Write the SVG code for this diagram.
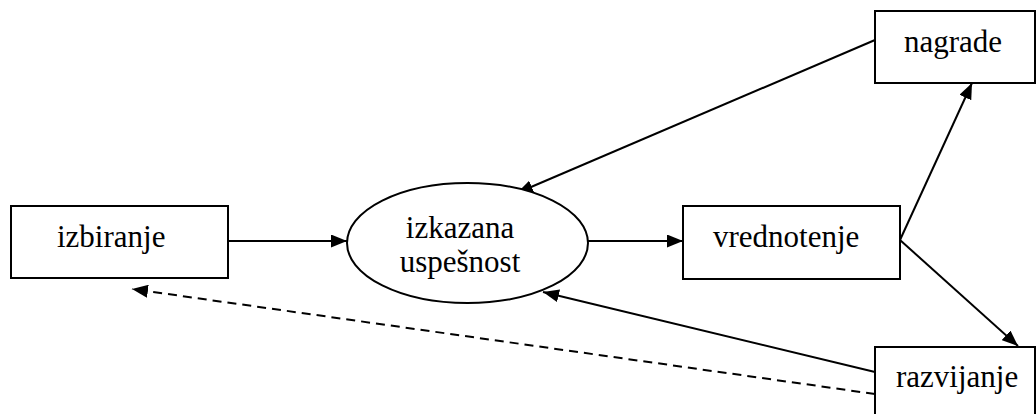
<svg xmlns="http://www.w3.org/2000/svg" width="1036" height="414" viewBox="0 0 1036 414">
<style>
.box{fill:#fff;stroke:#000;stroke-width:2}
.c{stroke:#000;stroke-width:2;fill:none}
.d{stroke-dasharray:9,6}
</style>
<defs>
<marker id="ah" markerUnits="userSpaceOnUse" markerWidth="16" markerHeight="13" viewBox="0 0 16 13" refX="16" refY="6.5" orient="auto">
<path d="M0,0 L16,6.5 L0,13 Z" fill="#000"/>
</marker>
</defs>
<g id="connectors">
<line class="c" x1="228" y1="241" x2="347" y2="241" marker-end="url(#ah)"/>
<line class="c" x1="588" y1="241" x2="683" y2="241" marker-end="url(#ah)"/>
<line class="c" x1="900" y1="240" x2="972" y2="83" marker-end="url(#ah)"/>
<line class="c" x1="900" y1="240" x2="1018" y2="346" marker-end="url(#ah)"/>
<line class="c" x1="875" y1="40" x2="517" y2="193" marker-end="url(#ah)"/>
<line class="c" x1="875" y1="372" x2="543" y2="292" marker-end="url(#ah)"/>
<line class="c d" x1="875" y1="394" x2="132" y2="289" marker-end="url(#ah)"/>
</g>
<g font-family="Liberation Serif" font-size="31" fill="#000">
<g id="izbiranje">
<rect class="box" x="11" y="206" width="217" height="72"/>
<text x="57" y="247">izbiranje</text>
</g>
<g id="izkazana-uspesnost">
<ellipse class="box" cx="467.5" cy="243" rx="120.5" ry="60"/>
<text x="460" y="238" text-anchor="middle">izkazana</text>
<text x="460" y="272" text-anchor="middle">uspešnost</text>
</g>
<g id="vrednotenje">
<rect class="box" x="683" y="206" width="217" height="73"/>
<text x="713" y="247">vrednotenje</text>
</g>
<g id="nagrade">
<rect class="box" x="875" y="11" width="160" height="72"/>
<text x="904" y="52">nagrade</text>
</g>
<g id="razvijanje">
<rect class="box" x="875" y="347" width="160" height="72"/>
<text x="896" y="387">razvijanje</text>
</g>
</g>
</svg>
